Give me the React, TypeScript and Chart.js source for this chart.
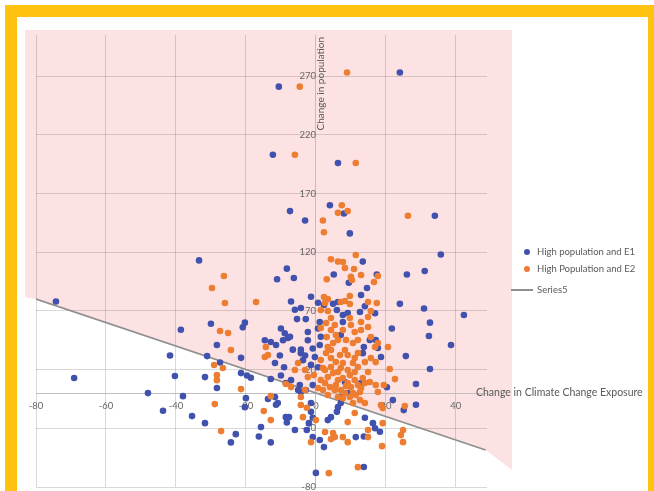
import React, { useEffect, useRef } from 'react';
import { Chart, registerables } from 'chart.js';

Chart.register(...registerables);

// ---- data ----
const xTicks = [-80, -60, -40, -20, 0, 20, 40];
const yTicks = [-80, -30, 20, 70, 120, 170, 220, 270];
const xRange = [-80, 48.9];
const yRange = [-80, 305];

const seriesNames = ['High population and E1', 'High Population and E2', 'Series5'];
const xTitle = 'Change in Climate Change Exposure';
const yTitle = 'Change in population';

const e1Points: [number, number][] = [
  [24, 273], [-10.6, 261], [-12.3, 203], [6.3, 196], [4, 160], [8, 153], [-7.4, 155], [-3.1, 147],
  [9.7, 136], [34, 151], [35.7, 118], [-33.4, 113], [5.1, 101], [-8.3, 106], [-11.1, 97], [-6.3, 98],
  [13.4, 112], [17.4, 101], [26, 101], [31.1, 104], [9.4, 94], [14.6, 89.5], [-7.1, 78], [-1.4, 82],
  [24, 76], [30.9, 72], [12.9, 83.5], [6.3, 77.6], [4.9, 76], [0.6, 77], [2.3, 75], [14, 74],
  [-4.3, 72.5], [-6, 71], [12.6, 69], [16.9, 68], [32.6, 60], [32.3, 48.6], [21.7, 55], [38.6, 41],
  [25.7, 31.5], [32.6, 20.5], [-5.4, 63], [-2.9, 63], [1.1, 60.5], [0.6, 55], [1.4, 48], [1.1, 41],
  [-0.9, 38], [-2.3, 45], [-7.4, 48], [-6.6, 37], [-4.3, 37], [-3.1, 32], [-30, 59], [-20.3, 60],
  [-20.9, 56], [-38.6, 54], [-28.3, 41], [-41.7, 32], [-31.1, 31.5], [-27.4, 26], [-21.4, 30],
  [-40.3, 14.5], [-31.7, 13.6], [-28.3, 4.3], [-21.4, 17], [-19.7, 15], [-18.6, 13], [-12.9, 12],
  [-14.6, 45], [-12.9, 43.5], [-11.4, 41], [-9.4, 45], [-10, 55], [-8.9, 51], [-8, 47], [-10.3, 32],
  [-11.7, 25.6], [-9.1, 22], [-10, 15], [-8.6, 8.5], [-7.1, 11], [-38, -2.6], [-43.7, -15],
  [-35.4, -19.6], [-31.7, -25.6], [-22.9, -35], [-24.3, -42], [-20, -4.3], [-20.3, -12], [-13.7, -5],
  [-11.7, -3.4], [-10.9, -8.5], [-11.4, -10], [-8.6, -20.5], [-8.3, -25], [-6, -31.5], [-15.7, -29],
  [-16.3, -37], [-12.9, -42], [28.6, 7.7], [22, -6], [28.6, -10], [25.1, -14.5], [18.3, -33],
  [16.3, -25.6], [16.9, -30], [13.7, -37], [11.4, -37.5], [-0.9, -37.5], [1.1, -40], [2.3, -46],
  [-2.6, -31.5], [0, -68], [13.7, -63], [14, -21], [3.4, -23], [4.3, -20.5], [6, -16], [6.3, -12],
  [-1.4, -16], [-0.9, -21], [-2, -25.6], [-1.4, -8.5], [-7.7, -20.5], [7.1, -8.5], [6.9, -3.4],
  [-5.1, 2.6], [-4.6, 6.8], [-4.3, 0.9], [-1.4, 24], [0.6, 22], [-0.3, 30.7], [-4.3, 34], [-3.7, 28],
  [9.1, 0], [12.9, 8.5], [13.4, 34], [18.6, 30.7], [-74.3, 78], [-69.1, 12.8], [-48, 0], [42.3, 66.5],
  [20.3, 5], [6, 70.8], [7.7, 66.5], [9.1, 68.2], [7.7, 60.5], [7.1, 49.4], [13.7, 39.2], [17.7, 38.4],
  [15.4, 45.2], [17.1, 45.2], [8.3, 9.4], [-0.9, 6.8], [-2.9, 2.6], [-2.3, 52],
];

const e2Points: [number, number][] = [
  [8.9, 273], [-4.6, 261], [-6, 203], [11.4, 196], [7.4, 160], [6.3, 153.5], [9.1, 155], [2, 147],
  [2.3, 137], [26.3, 151], [11.4, 117.6], [4.3, 114], [6.3, 112], [7.7, 111.7], [-26.3, 99.7],
  [-29.7, 89.5], [8.3, 106.6], [10.9, 105.7], [3.1, 97], [10, 99], [12.9, 100.6], [17.7, 99.7],
  [16.6, 94.6], [10.3, 96.3], [-26, 76.7], [-17.1, 77.6], [2.3, 81.8], [3.4, 80], [2.6, 76.7],
  [7.1, 77.6], [8.3, 78.4], [9.7, 75.9], [14.9, 77.6], [17.4, 76.7], [9.7, 82.7], [1.4, 70.8],
  [3.4, 69.9], [15.7, 69.9], [14.9, 64.8], [12.9, 60.5], [-27.4, 52.9], [-25.1, 51.2], [-24.3, 36.7],
  [-29.1, 23.9], [-26.6, 21.3], [-28.3, 15.3], [-28.3, 11], [-21.4, 3.4], [-14.3, 39.2], [-13.7, 32.4],
  [-14.6, 30.7], [-8.6, 7.7], [-28.9, -9.4], [-27.1, -32.4], [-12.9, -2.6], [-14.9, -15.3],
  [-12.9, -23], [20.6, 39.2], [21.1, 20.5], [22.6, 11.9], [19.4, 6.8], [25.4, -11.1], [19.1, -12.8],
  [18.6, -10.2], [19.1, -25.6], [24.9, -31.5], [24.3, -35.8], [24.9, -41.8], [18.9, -45.2],
  [14.9, -31.5], [14.9, -37.5], [9.1, -41.8], [7.7, -37.5], [5.4, -37.5], [4.3, -39.2], [4.9, -34.1],
  [2.6, -33.2], [-1.4, -41.8], [3.7, -68.2], [12, -63.1], [9.1, -24.7], [11.1, -17], [-3.7, -20.5],
  [-4.3, -10.2], [-2.6, -12.5], [0, -23], [-4.3, -3.4], [-3.1, 2.6], [-7.1, 5.1], [14, 26.4],
  [11.1, 29.8], [12, 22.2], [15.7, 29.8], [17.1, 26.4], [15.4, 9.4], [17.1, 6.8], [17.7, 0.9],
  [17.7, 42.6], [4.3, 63.9], [2.9, 59.7], [1.4, 55.4], [4.3, 53.7], [5.4, 58], [9.7, 63.9], [10, 58],
  [11.1, 52], [12.9, 53.7], [14.9, 56.3], [15.7, 47.7], [12, 45.2], [10.6, 42.6], [6.3, 45.2],
  [4.9, 42.6], [3.4, 39.2], [4.3, 36.7], [8.3, 36.7], [6.9, 32.4], [9.1, 32.4], [12, 34.1],
  [16.9, 39.2], [3.1, 47.7], [5.7, 49.4], [7.7, 53.7], [8.6, 45.2], [1.4, 11.1], [2.6, 8.5],
  [3.4, 13.6], [4.9, 17], [6.3, 11.1], [7.7, 12.8], [9.1, 8.5], [10, 5.1], [11.1, 11.1], [12, 6.8],
  [12.9, 4.3], [14, 8.5], [7.1, 2.6], [8.3, 0], [9.7, -3.4], [10.6, 0], [6.3, -3.4], [5.4, 2.6],
  [4, 5.1], [2.6, 19.6], [4.3, 22.2], [7.1, 21.3], [9.1, 19.6], [11.1, 17.9], [-2.3, 13.6],
  [-3.1, 19.6], [-5.1, 25.6], [-6, 19.6], [4.3, 29.8], [1.4, 28.1], [2.9, 34.1], [5.7, 26.4],
  [10.6, 25.6], [12.6, -6], [14, -8.5], [10.6, -8.5], [2, 2.6], [3.4, -1.7], [7.7, -4.3],
  [11.4, -1.7], [12.6, 0.9], [5.7, 6.8], [8.6, 6], [0.6, 4.3], [-0.6, 15.3], [2, 21.3], [6.3, 17.9],
  [9.7, 15.3], [13.4, 12.8], [14.9, 17.9], [7.7, 25.6],
];

const series5X = [-80, 48.5];
const series5Y = [80, -48.5];

// ---- styles ----
const BLUE = '#4152AE';
const ORANGE = '#ED7D31';
const LINE_GRAY = '#8f8f8f';
const PINK = '#FCE2E2';
const GRID = 'rgba(0,0,0,0.15)';
const TEXT = '#666666';
const FONT = 'Lato, "Open Sans", sans-serif';
const YELLOW = '#FFC20E';

const shadePlugin = {
  id: 'shade',
  beforeDraw(chart: any) {
    const { ctx, chartArea: a } = chart;
    const meta = chart.getDatasetMeta(2);
    const pts = meta.data;
    if (!pts || pts.length < 2) return;
    const p0 = pts[0];
    const p1 = pts[pts.length - 1];
    ctx.save();
    ctx.fillStyle = PINK;
    ctx.beginPath();
    ctx.moveTo(a.left - 11, a.top - 5);
    ctx.lineTo(a.right + 25, a.top - 5);
    ctx.lineTo(a.right + 25, p1.y + 20);
    ctx.lineTo(p1.x, p1.y);
    ctx.lineTo(p0.x, p0.y);
    ctx.lineTo(a.left - 11, p0.y - 2);
    ctx.closePath();
    ctx.fill();
    ctx.restore();
  },
};

const titlePlugin = {
  id: 'axisTitles',
  afterDraw(chart: any) {
    const { ctx, chartArea: a, scales } = chart;
    const x0 = scales.x.getPixelForValue(0);
    const y0 = scales.y.getPixelForValue(0);
    ctx.save();
    ctx.fillStyle = '#595959';
    ctx.font = `10.5px ${FONT}`;
    ctx.textBaseline = 'middle';
    ctx.textAlign = 'left';
    ctx.fillText(xTitle, a.right - 11, y0);
    ctx.font = `10px ${FONT}`;
    ctx.translate(x0 + 5, a.top + 2);
    ctx.rotate(-Math.PI / 2);
    ctx.textAlign = 'right';
    ctx.fillText(yTitle, 0, 0);
    ctx.restore();
  },
};

const toXY = (pts: [number, number][]) => pts.map(([x, y]) => ({ x, y }));

export default function App() {
  const ref = useRef<HTMLCanvasElement>(null);

  useEffect(() => {
    if (!ref.current) return;
    const chart = new Chart(ref.current, {
      type: 'scatter',
      data: {
        datasets: [
          {
            label: seriesNames[0],
            data: toXY(e1Points),
            backgroundColor: BLUE,
            borderWidth: 0,
            pointRadius: 3.3,
            order: 1,
          },
          {
            label: seriesNames[1],
            data: toXY(e2Points),
            backgroundColor: ORANGE,
            borderWidth: 0,
            pointRadius: 3.3,
            order: 0,
          },
          {
            label: seriesNames[2],
            type: 'line',
            data: series5X.map((x, i) => ({ x, y: series5Y[i] })),
            borderColor: LINE_GRAY,
            borderWidth: 1.8,
            pointRadius: 0,
            showLine: true,
            fill: false,
            order: 2,
          } as any,
        ],
      },
      options: {
        animation: false,
        responsive: false,
        maintainAspectRatio: false,
        layout: { padding: { left: 36, top: 35, right: 167, bottom: 4 } },
        plugins: { legend: { display: false }, tooltip: { enabled: false } },
        scales: {
          x: {
            type: 'linear',
            min: xRange[0],
            max: xRange[1],
            position: { y: 0 } as any,
            afterBuildTicks: (s: any) => {
              s.ticks = xTicks.map((v) => ({ value: v }));
            },
            afterFit: (s: any) => {
              s.height = 0;
              s.paddingLeft = 0;
              s.paddingRight = 0;
              s.paddingTop = 0;
              s.paddingBottom = 0;
            },
            grid: { color: GRID, drawTicks: false },
            border: { color: '#bfbfbf', width: 1 },
            ticks: { padding: 7, color: TEXT, font: { family: FONT, size: 9.5 } },
          },
          y: {
            type: 'linear',
            min: yRange[0],
            max: yRange[1],
            position: { x: 0 } as any,
            afterBuildTicks: (s: any) => {
              s.ticks = yTicks.map((v) => ({ value: v }));
            },
            afterFit: (s: any) => {
              s.width = 0;
              s.paddingLeft = 0;
              s.paddingRight = 0;
              s.paddingTop = 0;
              s.paddingBottom = 0;
            },
            grid: { color: GRID, drawTicks: false },
            border: { color: '#bfbfbf', width: 1 },
            ticks: { padding: 9, color: TEXT, font: { family: FONT, size: 9.5 } },
          },
        },
      },
      plugins: [shadePlugin, titlePlugin],
    });
    return () => chart.destroy();
  }, []);

  const legendText: React.CSSProperties = {
    position: 'absolute',
    left: 537,
    font: `9.5px ${FONT}`,
    color: '#595959',
    lineHeight: '12px',
    whiteSpace: 'nowrap',
  };
  const dot = (c: string, top: number): React.CSSProperties => ({
    position: 'absolute',
    left: 524,
    top,
    width: 6,
    height: 6,
    borderRadius: '50%',
    background: c,
  });

  return (
    <div
      style={{
        position: 'fixed',
        left: 0,
        top: 0,
        width: 654,
        height: 491,
        overflow: 'hidden',
        background: '#ffffff',
      }}
    >
      <div
        style={{
          position: 'absolute',
          left: 5,
          top: 5,
          width: 655,
          height: 500,
          boxSizing: 'border-box',
          border: `12px solid ${YELLOW}`,
        }}
      />
      <canvas
        ref={ref}
        width={654}
        height={491}
        style={{ position: 'absolute', left: 0, top: 0, width: 654, height: 491 }}
      />
      <div style={dot(BLUE, 249)} />
      <div style={{ ...legendText, top: 246 }}>{seriesNames[0]}</div>
      <div style={dot(ORANGE, 266)} />
      <div style={{ ...legendText, top: 263 }}>{seriesNames[1]}</div>
      <div
        style={{
          position: 'absolute',
          left: 511,
          top: 289,
          width: 22,
          height: 1.5,
          background: LINE_GRAY,
        }}
      />
      <div style={{ ...legendText, top: 284 }}>{seriesNames[2]}</div>
    </div>
  );
}
